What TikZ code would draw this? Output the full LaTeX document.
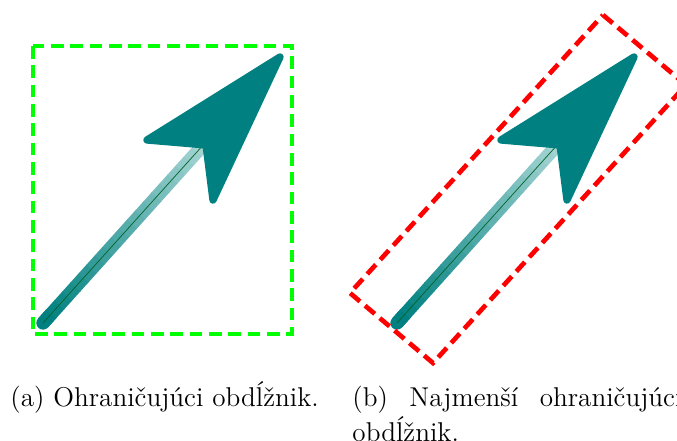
\documentclass[tikz,border=0pt]{standalone}
\usepackage{tikz}
\usepackage{xcolor}
\usetikzlibrary{calc}
\definecolor{bbTeal}{RGB}{0,128,128}
\definecolor{bbPale}{RGB}{172,216,214}
\definecolor{bbGreen}{RGB}{0,255,0}
\definecolor{bbRed}{RGB}{255,0,0}
\definecolor{bbMid}{RGB}{0,100,40}
% arrow: shaft as a row of short pieces, head on top; #1 = shift in x
\newcommand{\bbArrow}[1]{%
    \draw[bbTeal, line width=0.2cm, line cap=round] (43+#1,323) -- ($(43+#1,323)!0.05!(205+#1,143)$);
    \foreach \i in {0,...,19} {
        \pgfmathsetmacro{\bbMix}{100-5*\i}
        \draw[bbTeal!\bbMix!bbPale, line width=0.2cm]
            ($(43+#1,323)!{\i/20}!(205+#1,143)$) -- ($(43+#1,323)!{(\i+1.05)/20}!(205+#1,143)$);
    }
    \draw[bbMid, line width=0.3pt] (43+#1,323) -- (205+#1,143);
    \filldraw[bbTeal, line width=0.11cm, line join=round]
        (280+#1,57) -- (147+#1,140) -- (206+#1,145) -- (213+#1,200) -- cycle;
}

\begin{document}
\begin{tikzpicture}[x=0.015cm, y=-0.015cm,
    bbbox/.style={line width=0.07cm, dash pattern=on 0.19cm off 0.1cm},
    bbcap/.style={anchor=base west, inner sep=0pt, font=\fontsize{11.6}{12.4}\selectfont}]
    \clip (0,0) rectangle (677,441);
    % (a)
    \bbArrow{0}
    \draw[bbbox, bbGreen] (33,46) rectangle (292,334);
    \node[bbcap] (capa) at (10,407) {(a) Ohraničujúci obdĺžnik.};
    % (b)
    \bbArrow{354}
    \draw[bbbox, bbRed] (603,15) -- (686,85) -- (433,363) -- (350,293) -- cycle;
    \node[bbcap] (capb) at (352,407) {\parbox[t]{4.95cm}{(b) Najmenší ohraničujúci\linebreak obdĺžnik.}};
\end{tikzpicture}
\end{document}
